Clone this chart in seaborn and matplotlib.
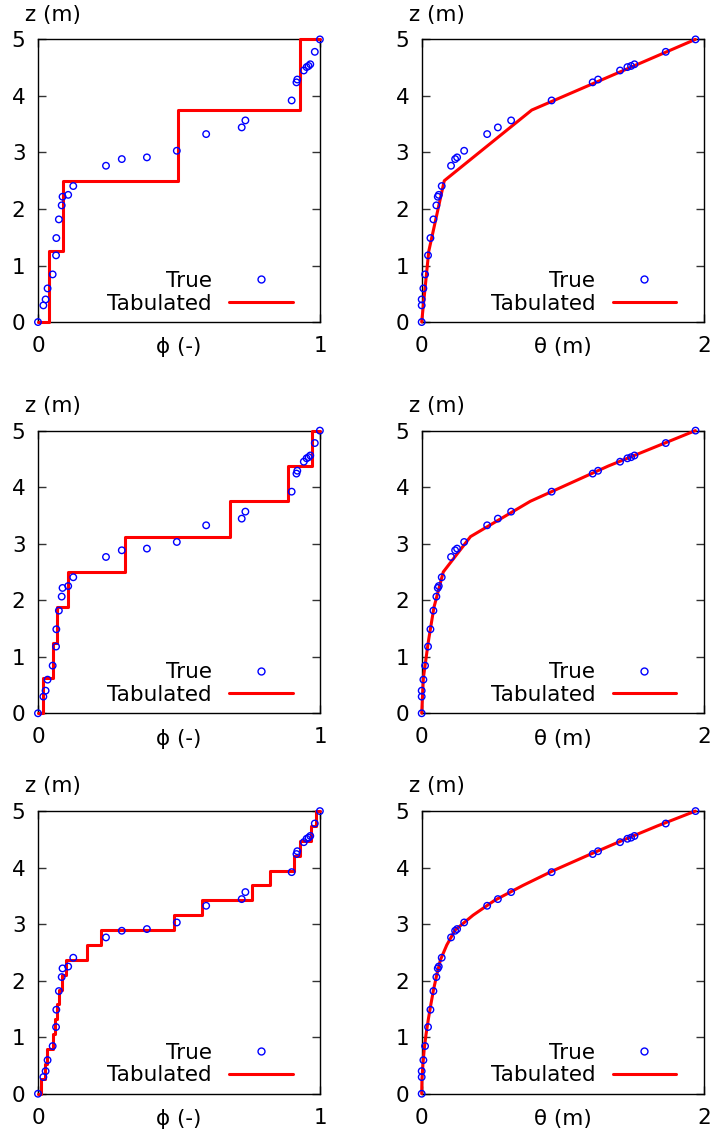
import matplotlib
matplotlib.use("Agg")
import matplotlib.pyplot as plt
from matplotlib.lines import Line2D
import seaborn as sns

# "True" profile samples (shared by every panel)
z_true = [0.0, 0.295, 0.40, 0.595, 0.843, 1.18, 1.486, 1.816, 2.064, 2.217,
          2.25, 2.406, 2.765, 2.883, 2.913, 3.03, 3.325, 3.443, 3.567, 3.92,
          4.24, 4.29, 4.45, 4.51, 4.53, 4.56, 4.78, 5.0]
phi_true = [0.0, 0.019, 0.027, 0.034, 0.052, 0.064, 0.065, 0.074, 0.084, 0.087,
            0.107, 0.125, 0.241, 0.297, 0.386, 0.492, 0.596, 0.722, 0.735, 0.899,
            0.916, 0.919, 0.942, 0.952, 0.959, 0.965, 0.981, 0.999]
theta_true = [0.0, 0.0, 0.0, 0.012, 0.024, 0.045, 0.062, 0.083, 0.104, 0.114,
              0.121, 0.142, 0.208, 0.237, 0.251, 0.301, 0.464, 0.540, 0.634, 0.921,
              1.212, 1.250, 1.406, 1.458, 1.484, 1.508, 1.730, 1.941]

# Tabulated profiles: z grid edges, phi per interval, theta at edges
z_tab_1 = [0.0, 1.25, 2.5, 3.75, 5.0]
phi_tab_1 = [0.040, 0.088, 0.496, 0.930]
theta_tab_1 = [0.0, 0.05, 0.16, 0.78, 1.94]

z_tab_2 = [0.0, 0.625, 1.25, 1.875, 2.5, 3.125, 3.75, 4.375, 5.0]
phi_tab_2 = [0.019, 0.054, 0.066, 0.105, 0.309, 0.679, 0.887, 0.971]
theta_tab_2 = [0.0, 0.012, 0.046, 0.087, 0.153, 0.346, 0.770, 1.324, 1.94]

z_tab_3 = [0.0, 0.263, 0.526, 0.789, 1.053, 1.316, 1.579, 1.842, 2.105, 2.368,
           2.632, 2.895, 3.158, 3.421, 3.684, 3.947, 4.211, 4.474, 4.737, 5.0]
phi_tab_3 = [0.009, 0.025, 0.033, 0.052, 0.060, 0.066, 0.075, 0.086, 0.099, 0.172,
             0.225, 0.481, 0.583, 0.758, 0.823, 0.907, 0.927, 0.966, 0.987]
theta_tab_3 = [0.0, 0.002, 0.009, 0.018, 0.031, 0.047, 0.065, 0.084, 0.107, 0.133,
               0.178, 0.237, 0.364, 0.517, 0.717, 0.933, 1.172, 1.416, 1.670, 1.94]

rows = [(z_tab_1, phi_tab_1, theta_tab_1),
        (z_tab_2, phi_tab_2, theta_tab_2),
        (z_tab_3, phi_tab_3, theta_tab_3)]

FS = 15.5

sns.set_theme(style="ticks")
plt.rcParams['font.family'] = ['DejaVu Sans']
plt.rcParams['font.size'] = FS
plt.rcParams['text.color'] = 'black'

fig = plt.figure(figsize=(7.14, 11.32), dpi=100)
row_bottoms = [0.7155, 0.3699, 0.0338]
col_lefts = [0.0532, 0.5906]
w, h = 0.3952, 0.2497


def style_axes(ax, xmax, xlabel):
    ax.set_xlim(0, xmax)
    ax.set_ylim(0, 5)
    ax.set_xticks([0, xmax])
    ax.set_xticklabels(['0', str(xmax)])
    ax.set_yticks([0, 1, 2, 3, 4, 5])
    for s in ax.spines.values():
        s.set_visible(True)
        s.set_color('black')
        s.set_linewidth(1.0)
        s.set_zorder(1)
    ax.tick_params(axis='y', direction='in', length=5.5, width=1, color='#333333',
                   right=True, labelsize=FS, pad=9, labelcolor='black')
    ax.tick_params(axis='x', direction='in', length=5.5, width=1, color='#333333',
                   top=True, labelsize=FS, pad=10, labelcolor='black')
    ax.set_xlabel(xlabel, fontsize=FS, color='black')
    ax.xaxis.set_label_coords(0.5, -0.09)
    ax.xaxis.label.set_va('center')
    ax.set_ylabel('z (m)', rotation=0, ha='left', va='center', fontsize=FS, color='black')
    ax.yaxis.set_label_coords(-0.045, 1.087)
    handles = [Line2D([], [], marker='o', ls='none', mfc='none', mec='blue',
                      ms=5, mew=1.0),
               Line2D([], [], color='red', lw=2.2)]
    leg = ax.legend(handles, ['True', 'Tabulated'], loc='lower right',
                    bbox_to_anchor=(0.902, 0.03), frameon=False, markerfirst=False,
                    handlelength=2.95, handletextpad=0.8, labelspacing=0.12,
                    borderpad=0, borderaxespad=0, numpoints=1, fontsize=FS)
    for t in leg.get_texts():
        t.set_color('black')


for r, (z_tab, phi_tab, theta_tab) in enumerate(rows):
    # left: phi step profile
    ax = fig.add_axes([col_lefts[0], row_bottoms[r], w, h])
    step_x = [0.0] + phi_tab + [1.0]
    step_y = [0.0] + z_tab[1:] + [z_tab[-1]]
    sns.lineplot(x=step_x, y=step_y, sort=False, estimator=None, ax=ax,
                 color='red', lw=2.2, drawstyle='steps-post', clip_on=False)
    sns.scatterplot(x=phi_true, y=z_true, ax=ax, marker='o', s=22,
                    facecolor='none', edgecolor='blue', linewidth=1.0, zorder=3,
                    clip_on=False)
    style_axes(ax, 1, 'ϕ (-)')

    # right: theta piecewise-linear profile
    ax = fig.add_axes([col_lefts[1], row_bottoms[r], w, h])
    sns.lineplot(x=theta_tab, y=z_tab, sort=False, estimator=None, ax=ax,
                 color='red', lw=2.2, clip_on=False)
    sns.scatterplot(x=theta_true, y=z_true, ax=ax, marker='o', s=22,
                    facecolor='none', edgecolor='blue', linewidth=1.0, zorder=3,
                    clip_on=False)
    style_axes(ax, 2, 'θ (m)')

fig.savefig('out.png', dpi=100)
